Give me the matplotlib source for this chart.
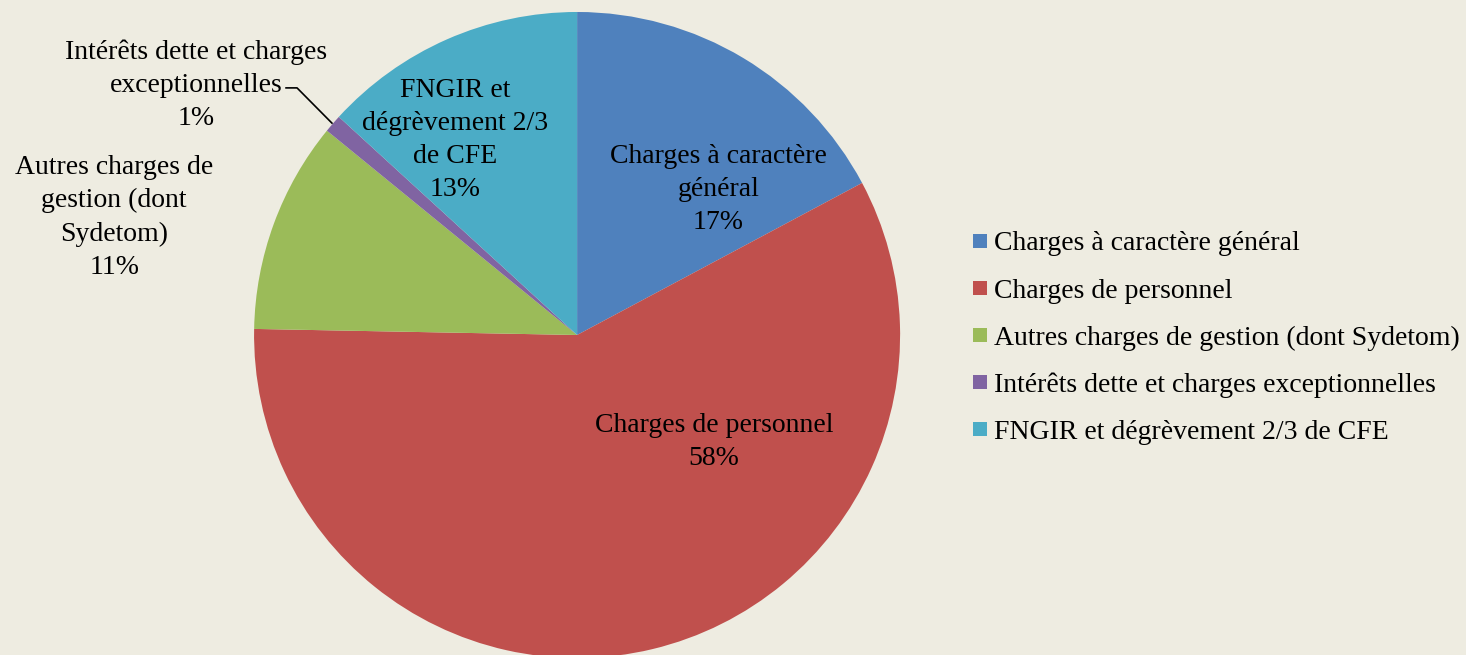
import matplotlib.pyplot as plt
from matplotlib.lines import Line2D

categories = ["Charges à caractère général", "Charges de personnel",
              "Autres charges de gestion (dont Sydetom)",
              "Intérêts dette et charges exceptionnelles",
              "FNGIR et dégrèvement 2/3 de CFE"]
values = [17.2, 58.1, 10.6, 0.9, 13.2]
pct_labels = ["17%", "58%", "11%", "1%", "13%"]
slice_texts = ["Charges à caractère\ngénéral", "Charges de personnel",
               "Autres charges de\ngestion (dont\nSydetom)",
               "Intérêts dette et charges\nexceptionnelles",
               "FNGIR et\ndégrèvement 2/3\nde CFE"]
colors = ["#4F81BD", "#C0504D", "#9BBB59", "#8064A2", "#4BACC6"]
bg = "#EEECE1"

plt.rcParams['font.family'] = ['Liberation Serif', 'DejaVu Serif']

fig = plt.figure(figsize=(14.66, 6.55), dpi=100, facecolor=bg)
ax = fig.add_axes([0.1733, -0.0046, 0.4407, 0.9863])
ax.set_facecolor(bg)

wedges, _ = ax.pie(values, colors=colors, startangle=90, counterclock=False,
                   radius=1, wedgeprops=dict(linewidth=0))
ax.set_xlim(-1, 1)
ax.set_ylim(-1, 1)
ax.set_aspect('equal')
ax.axis('off')

fs = 20
# label positions (data coords, pie radius = 1)
label_pos = [(0.437, 0.450), (0.424, -0.331), (-1.433, 0.364),
             (-1.180, 0.773), (-0.378, 0.603)]
for txt, pct, (x, y) in zip(slice_texts, pct_labels, label_pos):
    ax.text(x, y, txt + "\n" + pct, ha='center', va='center', fontsize=fs,
            linespacing=1.42, clip_on=False)

# leader line for the small slice
ax.plot([-0.901, -0.867, -0.759], [0.765, 0.765, 0.656], color='black',
        lw=1.2, clip_on=False)

handles = [Line2D([], [], marker='s', linestyle='none', markersize=9.5,
                  markerfacecolor=c, markeredgewidth=0) for c in colors]
fig.legend(handles, categories, loc='center left', bbox_to_anchor=(0.655, 0.484),
           frameon=False, fontsize=fs, handlelength=0.6, handletextpad=0.2,
           labelspacing=0.78, borderaxespad=0)

fig.savefig("out.png", dpi=100, facecolor=bg)
